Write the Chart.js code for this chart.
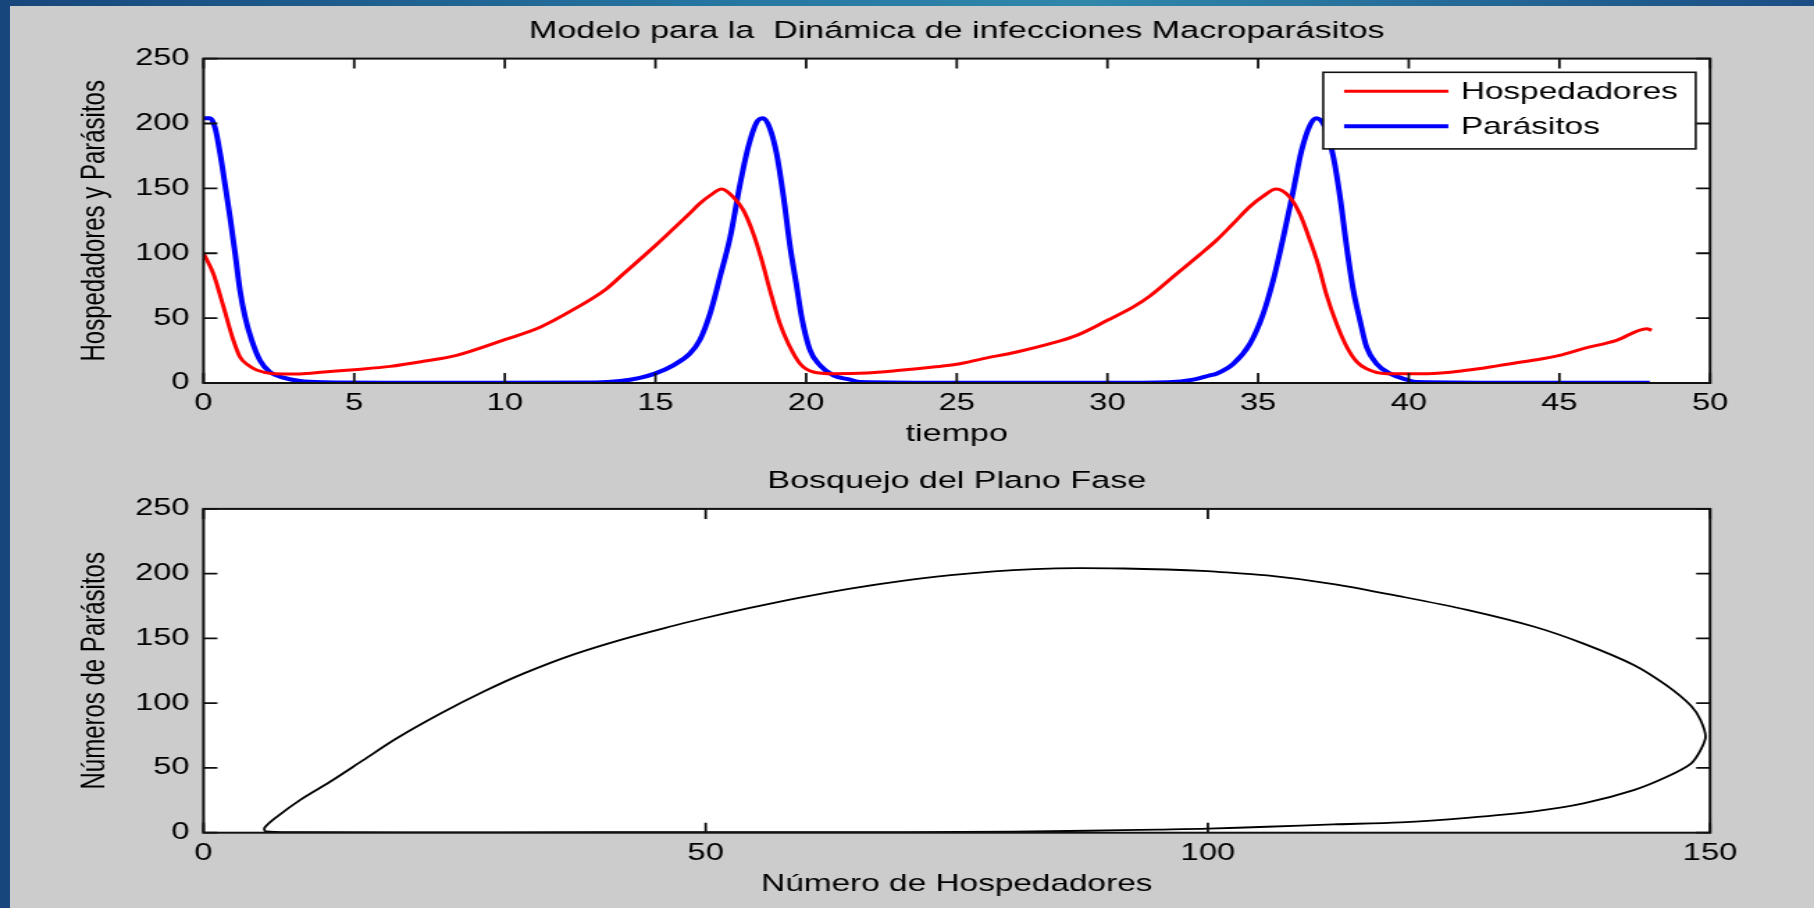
<!DOCTYPE html>
<html lang="es">
<head>
<meta charset="utf-8">
<title>Modelo para la Dinámica de infecciones Macroparásitos</title>
<script src="https://cdn.jsdelivr.net/npm/chart.js@4.4.1/dist/chart.umd.min.js"></script>
<style>
  html, body { margin: 0; padding: 0; }
  body {
    width: 1814px; height: 908px; overflow: hidden; position: relative;
    background: linear-gradient(90deg, #17467c 0%, #2676a2 40%, #2f87aa 60%, #1b4d84 100%);
  }
  #figure { position: absolute; left: 10px; top: 6px; right: 0; bottom: 0; background: #cccccc; }
  .stretch { position: absolute; left: 0; transform-origin: 0 0; }
  canvas { display: block; }
</style>
</head>
<body>
<div id="figure"></div>
<div class="stretch" id="wrapTime" style="top:0px"><canvas id="timeChart"></canvas></div>
<div class="stretch" id="wrapPhase" style="top:455px"><canvas id="phaseChart"></canvas></div>

<script>
/* ================================================================
   DATA
   ================================================================ */
const hostTime = [0, 0.33, 0.66, 0.99, 1.21, 1.49, 1.76, 2.32, 3.2, 4.0, 5.0, 6.2, 7.3, 8.4, 10.0,
  11.17, 12.27, 13.38, 13.93, 15.0, 15.6, 16.1, 16.48, 16.81, 17.2, 17.59, 17.92, 18.25, 18.53,
  18.8, 19.13, 19.41, 19.8, 20.24, 20.9, 22.0, 23.12, 24.22, 25.0, 25.88, 26.99, 28.1, 28.98,
  30.0, 30.86, 31.41, 32.19, 33.07, 33.62, 34.18, 34.73, 35.17, 35.6, 36.06, 36.39, 36.72, 37.0,
  37.27, 37.6, 37.94, 38.27, 38.6, 39.27, 40.6, 41.92, 43.03, 44.13, 45.0, 45.79, 46.9, 47.9, 48.06];
const hostValues = [100, 84, 59, 33, 20, 13.6, 10, 7.2, 7, 8.5, 10.3, 12.8, 16.7, 21.3, 33.4,
  43, 56.5, 72.7, 84, 106, 119, 130, 138.5, 144.5, 149.5, 143, 133, 115, 94.5,
  71.4, 45.7, 30.3, 14.9, 8.5, 7.2, 7.7, 9.8, 12.3, 14.4, 18.8, 23.9, 30.3, 36.7,
  48.3, 58.6, 67, 82, 99, 110, 123, 136, 144, 149.5, 143, 130, 110, 91,
  68, 46, 28, 16.5, 11, 7.2, 7.2, 9.8, 13.6, 17.5, 21.3, 26.5, 32.9, 41.9, 40.6];

const parasiteTime = [0, 0.22, 0.38, 0.55, 0.71, 0.88, 1.05, 1.21, 1.38, 1.6, 1.87, 2.2, 2.65, 3.2,
  3.98, 6, 10, 13.0, 13.82, 14.48, 14.98, 15.59, 16.14, 16.47, 16.81, 17.14, 17.48, 17.81, 18.08,
  18.36, 18.58, 18.8, 19.02, 19.25, 19.47, 19.69, 19.85, 20.13, 20.46, 20.9, 21.46, 21.79, 25, 30,
  32.0, 32.85, 33.4, 33.62, 34.18, 34.73, 35.17, 35.5, 35.84, 36.17, 36.44, 36.72, 36.94, 37.22,
  37.5, 37.72, 37.94, 38.16, 38.38, 38.6, 38.93, 39.38, 39.93, 40.26, 44, 48.0];
const parasiteValues = [204, 204, 197, 177, 153.6, 128, 99.7, 71.4, 50.9, 32.9, 17.5, 8.5, 4.1, 1.5,
  0.5, 0.2, 0.2, 0.4, 1.5, 4, 7.2, 13.6, 22.6, 33, 53.4, 81.7, 112.5, 153.6, 182,
  201, 204, 196, 176.7, 143.3, 104.8, 74, 50.9, 25.2, 13.6, 5.9, 2.6, 0.8, 0.2, 0.2,
  0.6, 2.6, 5.9, 7.2, 14.9, 30.3, 53.4, 79, 112.5, 148.5, 179, 198.6, 204, 197,
  174, 143.3, 104.8, 71.4, 48.3, 27.7, 14.9, 7.2, 2.6, 0.8, 0.2, 0.2];

// phase plane: hosts (x) vs parasites (y), in the order the orbit is travelled
const phaseHosts = [100, 95.9, 91.6, 87, 82.7, 78.7, 74.4, 69.4, 64.4, 59.4, 54.4, 49.5, 46.8, 41.8,
  36.8, 31.9, 27.9, 23.6, 19.2, 15.9, 12.6, 9.6, 7.3, 6.1, 6.2,
  10, 30, 50, 70, 80.7, 88, 95, 100, 105.9, 112.5, 119.2, 125.8, 132.5, 137.4, 142.4, 145.7,
  148.1, 149.05, 149.55, 149.05, 148.1, 145.7, 142.4, 137.4, 132.5, 125.8, 119.2, 112.5, 105.9, 100];
const phaseParasites = [202, 203.2, 204, 204.3, 203.5, 201.8, 198.8, 194.3, 188.5, 181.5, 173.5, 165, 159.8, 149.5,
  137.5, 123, 109, 92, 72.7, 56, 39.3, 25.2, 12.3, 4, 1,
  0.4, 0.3, 0.4, 0.5, 0.8, 1.5, 2.4, 3.1, 4.6, 6.4, 8, 11.5, 16.5, 22.6, 32.9, 43.2,
  53.4, 63.7, 74, 87, 98, 113.5, 129.5, 146, 159, 172, 182.4, 192, 198.6, 202];

const timeTicks = { min: 0, max: 50, step: 5 };
const hostTicks = { min: 0, max: 150, step: 50 };
const countTicks = { min: 0, max: 250, step: 50 };

/* ================================================================
   LAYOUT HELPERS
   the source image is stretched sideways, so each canvas is drawn
   narrow and widened with a CSS scaleX
   ================================================================ */
const PAGE_W = 1814;
const SX = 1.39;
const CANVAS_W = Math.round(PAGE_W / SX);
const FONT = '"Liberation Sans", Arial, Helvetica, sans-serif';
const INK = "#000000";

Chart.defaults.font.family = FONT;
Chart.defaults.color = INK;

function toXY(xs, ys) {
  return xs.map((x, i) => ({ x: x, y: ys[i] }));
}

function setupCanvas(wrapId, canvasId, height) {
  const wrap = document.getElementById(wrapId);
  const canvas = document.getElementById(canvasId);
  canvas.width = CANVAS_W;
  canvas.height = height;
  canvas.style.width = CANVAS_W + "px";
  canvas.style.height = height + "px";
  wrap.style.width = CANVAS_W + "px";
  wrap.style.transform = "scaleX(" + (PAGE_W / CANVAS_W) + ")";
  return canvas;
}

/* ================================================================
   PLUGINS: white plot box, inward ticks (MATLAB style), legend
   ================================================================ */
const matlabAxes = {
  id: "matlabAxes",
  beforeDatasetsDraw(chart) {
    const { ctx, chartArea: a } = chart;
    ctx.save();
    ctx.fillStyle = "#ffffff";
    ctx.fillRect(a.left, a.top, a.width, a.height);
    ctx.restore();
  },
  afterDatasetsDraw(chart) {
    const { ctx, chartArea: a, scales } = chart;
    ctx.save();
    ctx.strokeStyle = "#111111";
    ctx.lineWidth = 1.8;
    ctx.beginPath();
    scales.x.ticks.forEach(t => {
      const px = scales.x.getPixelForValue(t.value);
      ctx.moveTo(px, a.bottom); ctx.lineTo(px, a.bottom - 10);
      ctx.moveTo(px, a.top); ctx.lineTo(px, a.top + 10);
    });
    scales.y.ticks.forEach(t => {
      const py = scales.y.getPixelForValue(t.value);
      ctx.moveTo(a.left, py); ctx.lineTo(a.left + 10, py);
      ctx.moveTo(a.right, py); ctx.lineTo(a.right - 10, py);
    });
    ctx.stroke();
    ctx.lineWidth = 2;
    ctx.strokeRect(a.left, a.top, a.width, a.height);
    ctx.restore();
  }
};

const boxLegend = {
  id: "boxLegend",
  afterDraw(chart, args, opts) {
    if (!opts.show) return;
    const { ctx, chartArea: a } = chart;
    const w = 268, h = 76.6;
    const x0 = a.right - 10.3 - w;
    const y0 = a.top + 13.7;
    ctx.save();
    ctx.fillStyle = "#ffffff";
    ctx.fillRect(x0, y0, w, h);
    ctx.strokeStyle = "#111111";
    ctx.lineWidth = 1.6;
    ctx.strokeRect(x0, y0, w, h);
    ctx.font = "24px " + FONT;
    ctx.textBaseline = "middle";
    ctx.fillStyle = INK;
    chart.data.datasets.forEach((ds, i) => {
      const y = y0 + 19 + i * 35;
      ctx.strokeStyle = ds.borderColor;
      ctx.lineWidth = ds.borderWidth;
      ctx.beginPath();
      ctx.moveTo(x0 + 15, y);
      ctx.lineTo(x0 + 90, y);
      ctx.stroke();
      ctx.fillText(ds.label, x0 + 99, y + 1);
    });
    ctx.restore();
  }
};

function axisOptions(range, tickSize, titleText, extra) {
  return Object.assign({
    type: "linear",
    min: range.min,
    max: range.max,
    grid: { display: false, drawTicks: false },
    border: { display: false },
    ticks: { stepSize: range.step, autoSkip: false, maxRotation: 0, color: INK, font: { size: tickSize } },
    title: { display: true, text: titleText, color: INK, font: { size: 24 } }
  }, extra);
}

/* ================================================================
   CHART 1 – time series
   ================================================================ */
function buildTimeChart() {
  const canvas = setupCanvas("wrapTime", "timeChart", 455);
  const xAxis = axisOptions(timeTicks, 23.5, "tiempo", { afterFit: s => { s.height = 72; } });
  xAxis.ticks.padding = 6;
  xAxis.title.font = { size: 24.5 };
  xAxis.title.padding = { top: 0, bottom: 6 };
  const yAxis = axisOptions(countTicks, 23.5, "Hospedadores y Parásitos", { afterFit: s => { s.width = 146.4; } });
  yAxis.ticks.padding = 10;
  yAxis.title.padding = { top: 54, bottom: 0 };

  new Chart(canvas, {
    type: "scatter",
    data: {
      datasets: [
        {
          label: "Hospedadores",
          data: toXY(hostTime, hostValues),
          showLine: true,
          borderColor: "#ff0000",
          borderWidth: 3,
          pointRadius: 0,
          cubicInterpolationMode: "monotone"
        },
        {
          label: "Parásitos",
          data: toXY(parasiteTime, parasiteValues),
          showLine: true,
          borderColor: "#0000ff",
          borderWidth: 4,
          pointRadius: 0,
          cubicInterpolationMode: "monotone"
        }
      ]
    },
    options: {
      responsive: false,
      animation: false,
      layout: { padding: { left: 0, right: CANVAS_W - 1710 / SX, top: 0, bottom: 0 } },
      plugins: {
        legend: { display: false },
        tooltip: { enabled: false },
        title: {
          display: true,
          text: "Modelo para la  Dinámica de infecciones Macroparásitos",
          fullSize: false,
          color: INK,
          font: { size: 24.5, weight: "normal" },
          padding: { top: 16.6, bottom: 12.6 }
        },
        boxLegend: { show: true }
      },
      scales: { x: xAxis, y: yAxis }
    },
    plugins: [matlabAxes, boxLegend]
  });
}

/* ================================================================
   CHART 2 – phase plane
   ================================================================ */
function buildPhaseChart() {
  const canvas = setupCanvas("wrapPhase", "phaseChart", 453);
  const xAxis = axisOptions(hostTicks, 23.5, "Número de Hospedadores", { afterFit: s => { s.height = 75.3; } });
  xAxis.ticks.padding = 6.4;
  xAxis.title.padding = { top: 0, bottom: 9 };
  const yAxis = axisOptions(countTicks, 23.5, "Números de Parásitos", { afterFit: s => { s.width = 146.4; } });
  yAxis.ticks.padding = 10;
  yAxis.title.padding = { top: 54, bottom: 0 };

  new Chart(canvas, {
    type: "scatter",
    data: {
      datasets: [{
        label: "Plano Fase",
        data: toXY(phaseHosts, phaseParasites),
        showLine: true,
        borderColor: "#000000",
        borderWidth: 1.8,
        pointRadius: 0,
        tension: 0.3
      }]
    },
    options: {
      responsive: false,
      animation: false,
      layout: { padding: { left: 0, right: CANVAS_W - 1710 / SX, top: 0, bottom: 0 } },
      plugins: {
        legend: { display: false },
        tooltip: { enabled: false },
        title: {
          display: true,
          text: "Bosquejo del Plano Fase",
          fullSize: false,
          color: INK,
          font: { size: 24.5, weight: "normal" },
          padding: { top: 11.6, bottom: 12.9 }
        },
        boxLegend: { show: false }
      },
      scales: { x: xAxis, y: yAxis }
    },
    plugins: [matlabAxes, boxLegend]
  });
}

buildTimeChart();
buildPhaseChart();
</script>
</body>
</html>
